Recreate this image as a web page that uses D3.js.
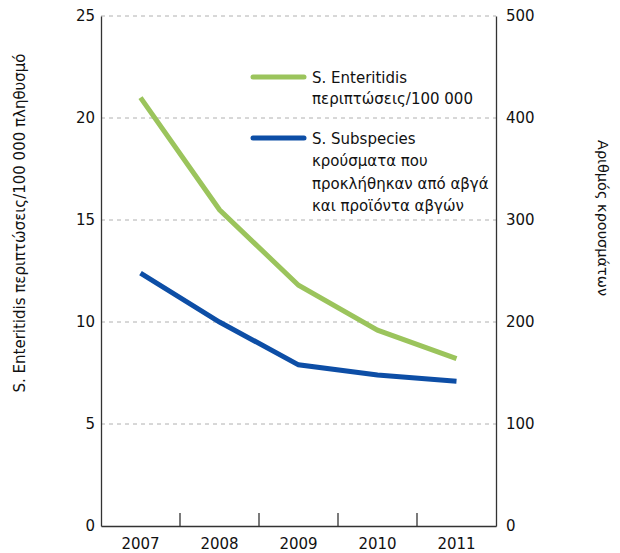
<!DOCTYPE html>
<html><head><meta charset="utf-8">
<script src="https://cdn.jsdelivr.net/npm/d3@7/dist/d3.min.js"></script>
<style>body{margin:0;background:#fff}svg{display:block}</style>
</head><body>
<svg id="c" width="620" height="553"></svg>
<script>
const years = ["2007","2008","2009","2010","2011"];
const enteritidisRate = [21.0, 15.5, 11.8, 9.6, 8.2];
const subspeciesCases = [248, 200, 158, 148, 142];
const leftTicks = [0,5,10,15,20,25];
const rightTicks = [0,100,200,300,400,500];
const legendEnteritidis = ["S. Enteritidis","περιπτώσεις/100 000"];
const legendSubspecies = ["S. Subspecies","κρούσματα που","προκλήθηκαν από αβγά","και προϊόντα αβγών"];
const leftTitle = "S. Enteritidis περιπτώσεις/100 000 πληθυσμό";
const rightTitle = "Αριθμός κρουσμάτων";

const svg = d3.select("#c");
const font = "DejaVu Sans, Verdana, sans-serif";
const L = 101, R = 496, T = 16, B = 526;
const green = "#9bc45c", blue = "#0d4ea6";

const x = d3.scaleBand().domain(years).range([L, R]).padding(0);
const yL = d3.scaleLinear().domain([0,25]).range([B, T]);
const yR = d3.scaleLinear().domain([0,500]).range([B, T]);

// gridlines
svg.append("g").selectAll("line").data(leftTicks.slice(1)).join("line")
  .attr("x1", L).attr("x2", R).attr("y1", d=>yL(d)).attr("y2", d=>yL(d))
  .attr("stroke", "#b0b0b0").attr("stroke-width", 1).attr("stroke-dasharray", "4,4");

// left axis
const gl = svg.append("g").attr("transform", `translate(${L},0)`)
  .call(d3.axisLeft(yL).tickValues(leftTicks).tickSize(0).tickPadding(6));
gl.select(".domain").attr("stroke", "#333").attr("stroke-width", 1.3);
gl.selectAll("text").attr("font-family", font).attr("font-size", 15).attr("fill", "#111");

// right axis
const gr = svg.append("g").attr("transform", `translate(${R},0)`)
  .call(d3.axisRight(yR).tickValues(rightTicks).tickSize(0).tickPadding(10));
gr.select(".domain").attr("stroke", "#333").attr("stroke-width", 1.3);
gr.selectAll("text").attr("font-family", font).attr("font-size", 15).attr("fill", "#111");

// bottom axis
const gb = svg.append("g").attr("transform", `translate(0,${B})`)
  .call(d3.axisBottom(x).tickSize(0).tickPadding(12));
gb.select(".domain").attr("stroke", "#333").attr("stroke-width", 1.3);
gb.selectAll("text").attr("font-family", font).attr("font-size", 15).attr("fill", "#111");
// inner boundary ticks
const bounds = years.slice(1).map(d => x(d));
svg.append("g").selectAll("line").data(bounds).join("line")
  .attr("x1", d=>d).attr("x2", d=>d).attr("y1", B).attr("y2", B-13)
  .attr("stroke", "#333").attr("stroke-width", 1.3);

const cx = d => x(d) + x.bandwidth()/2;
// lines
svg.append("path").datum(years.map((d,i)=>[cx(d), yR(subspeciesCases[i])]))
  .attr("d", d3.line()).attr("fill","none").attr("stroke", blue).attr("stroke-width", 5);
svg.append("path").datum(years.map((d,i)=>[cx(d), yL(enteritidisRate[i])]))
  .attr("d", d3.line()).attr("fill","none").attr("stroke", green).attr("stroke-width", 5);

// legend
const lg = svg.append("g").attr("font-family", font).attr("font-size", 15).attr("fill", "#111");
lg.append("line").attr("x1", 253).attr("x2", 304).attr("y1", 77).attr("y2", 77)
  .attr("stroke", green).attr("stroke-width", 5).attr("stroke-linecap", "round");
lg.append("text").selectAll("tspan").data(legendEnteritidis).join("tspan")
  .attr("x", 312).attr("y", (d,i)=>83 + i*21).text(d=>d);
lg.append("line").attr("x1", 253).attr("x2", 304).attr("y1", 138).attr("y2", 138)
  .attr("stroke", blue).attr("stroke-width", 5).attr("stroke-linecap", "round");
lg.append("text").selectAll("tspan").data(legendSubspecies).join("tspan")
  .attr("x", 312).attr("y", (d,i)=>144 + i*22.3).text(d=>d);

// axis titles
svg.append("text").attr("transform", "translate(25,223) rotate(-90)")
  .attr("text-anchor","middle").attr("font-family", font).attr("font-size", 15).attr("fill","#111")
  .text(leftTitle);
svg.append("text").attr("transform", "translate(598,218) rotate(90)")
  .attr("text-anchor","middle").attr("font-family", font).attr("font-size", 14.5).attr("fill","#111")
  .text(rightTitle);
</script>
</body></html>
